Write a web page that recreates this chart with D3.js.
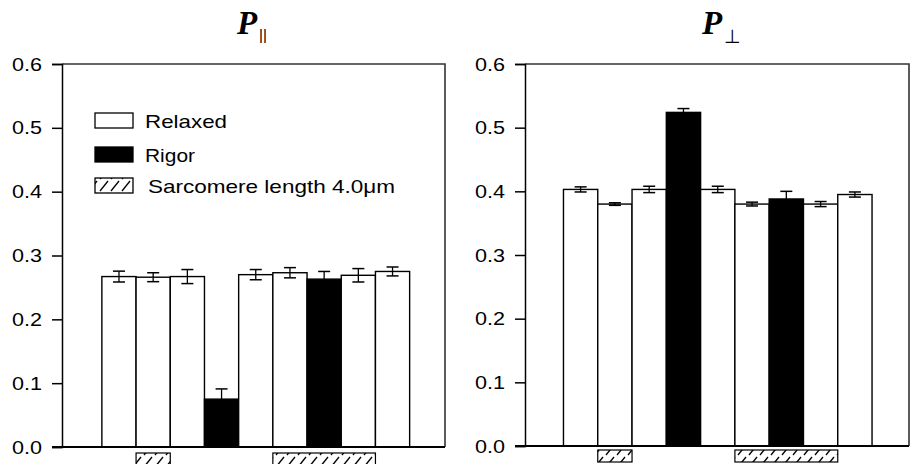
<!DOCTYPE html>
<html>
<head>
<meta charset="utf-8">
<script src="https://cdn.jsdelivr.net/npm/d3@7"></script>
<style>
  body { margin: 0; background: #fff; }
  svg { display: block; }
  text { font-family: "Liberation Sans", Arial, sans-serif; fill: #000; }
</style>
</head>
<body>
<svg id="chart" width="912" height="464"></svg>
<script>
// ---------- data ----------
const categories = ["c1", "c2", "c3", "c4", "c5", "c6", "c7", "c8", "c9"];
const state = ["Relaxed", "Relaxed", "Relaxed", "Rigor", "Relaxed", "Relaxed", "Rigor", "Relaxed", "Relaxed"];
const stretched = [false, true, false, false, false, true, true, true, false];
const pParallel = [0.267, 0.266, 0.267, 0.075, 0.270, 0.273, 0.263, 0.269, 0.275];
const pParallelErr = [0.0085, 0.007, 0.011, 0.016, 0.008, 0.008, 0.012, 0.0105, 0.007];
const pPerp = [0.403, 0.380, 0.403, 0.524, 0.403, 0.380, 0.388, 0.380, 0.395];
const pPerpErr = [0.004, 0.002, 0.005, 0.006, 0.005, 0.003, 0.012, 0.004, 0.004];
const yTicks = [0.0, 0.1, 0.2, 0.3, 0.4, 0.5, 0.6];
const legendLabels = ["Relaxed", "Rigor", "Sarcomere length 4.0\u03bcm"];
const titles = [{ main: "P", sub: "||" }, { main: "P", sub: "\u22a5" }];

const svg = d3.select("#chart");

// hatch pattern
const defs = svg.append("defs");
const pat = defs.append("pattern").attr("id", "hatch")
  .attr("patternUnits", "userSpaceOnUse").attr("width", 11).attr("height", 12);
pat.append("rect").attr("width", 11).attr("height", 12).attr("fill", "#fff");
pat.append("path").attr("d", "M1,11 L9,1").attr("stroke", "#000").attr("stroke-width", 1.3);

const colorOf = s => s === "Rigor" ? "#000" : "#fff";

function panel(cfg) {
  const { x0, x1, yTop, yBot, values, errs, title, align, boxOff, titleX, subX, subY, subSize, subFont } = cfg;
  const g = svg.append("g");
  const x = d3.scaleBand().domain(categories).range([x0, x1])
    .paddingInner(0).paddingOuter(1.1).align(align);
  const y = d3.scaleLinear().domain([0, 0.6]).range([yBot, yTop]);
  const rows = categories.map((c, i) => ({ c, v: values[i], e: errs[i], s: state[i] }));

  // bars
  g.selectAll("rect.bar").data(rows).join("rect")
    .attr("class", "bar")
    .attr("x", d => x(d.c))
    .attr("width", x.bandwidth())
    .attr("y", d => y(d.v))
    .attr("height", d => y(0) - y(d.v))
    .attr("fill", d => colorOf(d.s))
    .attr("stroke", "#000").attr("stroke-width", 1.4);

  // error bars
  const eb = g.selectAll("g.eb").data(rows).join("g").attr("class", "eb");
  const cx = d => x(d.c) + x.bandwidth() / 2;
  eb.append("line")
    .attr("x1", cx).attr("x2", cx)
    .attr("y1", d => y(d.v - d.e))
    .attr("y2", d => y(d.v + d.e))
    .attr("stroke", "#000").attr("stroke-width", 1.3);
  eb.append("line")
    .attr("x1", d => cx(d) - 6).attr("x2", d => cx(d) + 6)
    .attr("y1", d => y(d.v + d.e))
    .attr("y2", d => y(d.v + d.e))
    .attr("stroke", "#000").attr("stroke-width", 1.5);
  eb.filter(d => d.s !== "Rigor").append("line")
    .attr("x1", d => cx(d) - 6).attr("x2", d => cx(d) + 6)
    .attr("y1", d => y(d.v - d.e))
    .attr("y2", d => y(d.v - d.e))
    .attr("stroke", "#000").attr("stroke-width", 1.5);

  // frame (top and right)
  g.append("path")
    .attr("d", `M${x0},${yTop} H${x1} V${yBot}`)
    .attr("fill", "none").attr("stroke", "#333").attr("stroke-width", 1.6);

  // y axis
  const ya = g.append("g").attr("transform", `translate(${x0},0)`)
    .call(d3.axisLeft(y).tickValues(yTicks).tickFormat(d3.format(".1f")).tickSize(10).tickPadding(10));
  ya.select(".domain").attr("stroke", "#000").attr("stroke-width", 1.5);
  ya.selectAll(".tick line").attr("stroke", "#000").attr("stroke-width", 1.5);
  ya.selectAll(".tick text").style("font-size", "19px")
    .style("font-family", "'Liberation Sans', Arial, sans-serif")
    .attr("textLength", 30).attr("lengthAdjust", "spacingAndGlyphs");

  // x axis line
  g.append("line").attr("x1", x0 - 10).attr("x2", x1)
    .attr("y1", yBot).attr("y2", yBot)
    .attr("stroke", "#000").attr("stroke-width", 2);

  // hatched boxes for stretched runs
  const runs = [];
  stretched.forEach((s, i) => {
    if (!s) return;
    if (runs.length && runs[runs.length - 1].end === i - 1) runs[runs.length - 1].end = i;
    else runs.push({ start: i, end: i });
  });
  g.selectAll("rect.hb").data(runs).join("rect")
    .attr("class", "hb")
    .attr("x", r => x(categories[r.start]))
    .attr("width", r => x(categories[r.end]) + x.bandwidth() - x(categories[r.start]))
    .attr("y", yBot + boxOff).attr("height", 12)
    .attr("fill", "url(#hatch)").attr("stroke", "#000").attr("stroke-width", 1.2);

  // title
  g.append("text").attr("x", titleX).attr("y", 34)
    .style("font-family", "'Liberation Serif', 'Times New Roman', serif")
    .style("font-weight", "bold").style("font-style", "italic")
    .style("font-size", "33px").text(title.main);
  g.append("text").attr("x", subX).attr("y", subY)
    .style("font-family", subFont)
    .style("font-size", subSize + "px").text(title.sub);

  return { x, y };
}

panel({ x0: 62, x1: 445, yTop: 64, yBot: 447, values: pParallel, errs: pParallelErr, title: titles[0],
  align: 0.53, boxOff: 6, titleX: 237, subX: 259, subY: 40, subSize: 15,
  subFont: "'Liberation Sans', Arial, sans-serif" });
panel({ x0: 525, x1: 909, yTop: 64, yBot: 446, values: pPerp, errs: pPerpErr, title: titles[1],
  align: 0.51, boxOff: 4, titleX: 702, subX: 724, subY: 43, subSize: 19,
  subFont: "'DejaVu Sans', sans-serif" });

// legend (left panel)
const lg = svg.append("g");
const legendFill = ["#fff", "#000", "url(#hatch)"];
const legendY = [113, 147, 178];
const legendW = [82, 50, 247];
legendLabels.forEach((lab, i) => {
  lg.append("rect").attr("x", 95).attr("y", legendY[i]).attr("width", 38).attr("height", 15)
    .attr("fill", legendFill[i]).attr("stroke", "#000").attr("stroke-width", 1.3);
  lg.append("text").attr("x", i === 2 ? 148 : 145).attr("y", legendY[i] + 15)
    .style("font-size", "19px")
    .attr("textLength", legendW[i]).attr("lengthAdjust", "spacingAndGlyphs")
    .text(lab);
});
</script>
</body>
</html>
